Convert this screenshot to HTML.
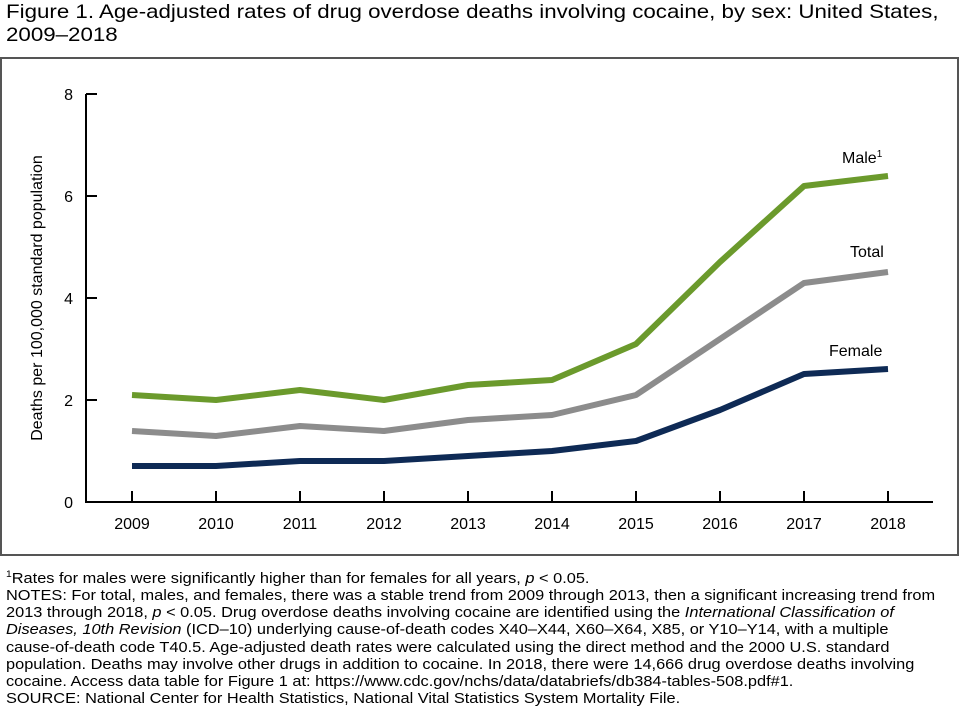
<!DOCTYPE html><html><head><style>
body{margin:0;background:#fff;width:960px;height:720px;overflow:hidden;font-family:"Liberation Sans",Arial,sans-serif;color:#000}
.t{position:absolute;left:6px;top:1px;font-size:19.5px;line-height:23px;white-space:nowrap;transform:scaleX(1.144);transform-origin:0 0}
.n{position:absolute;left:6px;top:566px;font-size:14.3px;line-height:17.2px;white-space:nowrap;transform:scaleX(1.144);transform-origin:0 0}
</style></head><body>
<div class="t">Figure 1. Age-adjusted rates of drug overdose deaths involving cocaine, by sex: United States,<br>2009–2018</div>
<svg width="960" height="720" style="position:absolute;left:0;top:0">
<rect x="1" y="58" width="957" height="497" fill="none" stroke="#555" stroke-width="2"/>
<g font-family="Liberation Sans,Arial,sans-serif" font-size="16">
<path d="M86 94V502H933" fill="none" stroke="#000" stroke-width="2"/>
<g stroke="#000" stroke-width="2"><path d="M86 94h11M86 196h11M86 298h11M86 400h11"/>
<path d="M132 502v-11M216 502v-11M300 502v-11M384 502v-11M468 502v-11M552 502v-11M636 502v-11M720 502v-11M804 502v-11M888 502v-11"/></g>
<g text-anchor="end"><text x="73" y="100">8</text><text x="73" y="202">6</text><text x="73" y="304">4</text><text x="73" y="406">2</text><text x="73" y="508">0</text></g>
<g text-anchor="middle"><text x="132" y="529">2009</text><text x="216" y="529">2010</text><text x="300" y="529">2011</text><text x="384" y="529">2012</text><text x="468" y="529">2013</text><text x="552" y="529">2014</text><text x="636" y="529">2015</text><text x="720" y="529">2016</text><text x="804" y="529">2017</text><text x="888" y="529">2018</text></g>
<text transform="translate(42,298) rotate(-90)" text-anchor="middle">Deaths per 100,000 standard population</text>
<g fill="none" stroke-width="6" stroke-linejoin="round">
<polyline stroke="#6b9a2c" points="132,395 216,400 300,390 384,400 468,385 552,380 636,344 720,262 804,186 888,176"/>
<polyline stroke="#8c8c8c" points="132,431 216,436 300,426 384,431 468,420 552,415 636,395 720,339 804,283 888,272"/>
<polyline stroke="#0e2a55" points="132,466 216,466 300,461 384,461 468,456 552,451 636,441 720,410 804,374 888,369"/>
</g>
<text x="842" y="163">Male<tspan font-size="10" dy="-6">1</tspan></text>
<text x="850" y="257">Total</text>
<text x="829" y="356">Female</text>
</g></svg>
<div class="n"><sup style="font-size:9px">1</sup>Rates for males were significantly higher than for females for all years, <i>p</i> &lt; 0.05.<br>NOTES: For total, males, and females, there was a stable trend from 2009 through 2013, then a significant increasing trend from<br>2013 through 2018, <i>p</i> &lt; 0.05. Drug overdose deaths involving cocaine are identified using the <i>International Classification of</i><br><i>Diseases, 10th Revision</i> (ICD–10) underlying cause-of-death codes X40–X44, X60–X64, X85, or Y10–Y14, with a multiple<br>cause-of-death code T40.5. Age-adjusted death rates were calculated using the direct method and the 2000 U.S. standard<br>population. Deaths may involve other drugs in addition to cocaine. In 2018, there were 14,666 drug overdose deaths involving<br>cocaine. Access data table for Figure 1 at: https://www.cdc.gov/nchs/data/databriefs/db384-tables-508.pdf#1.<br>SOURCE: National Center for Health Statistics, National Vital Statistics System Mortality File.</div>
</body></html>
